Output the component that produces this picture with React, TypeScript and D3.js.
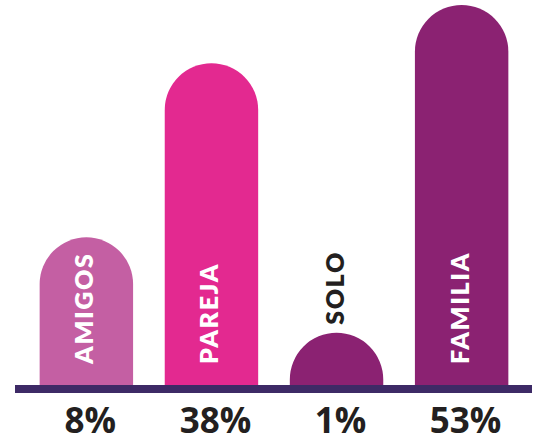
import React, { useRef, useEffect } from 'react';
import * as d3 from 'd3';

// chart data
const categories = ['AMIGOS', 'PAREJA', 'SOLO', 'FAMILIA'];
const values = [8, 38, 1, 53];
const valueLabels = ['8%', '38%', '1%', '53%'];
const barColors = ['#c45fa3', '#e32990', '#8b2272', '#8b2272'];

const width = 541;
const height = 443;
const baseY = 385;

// rounded-top bar; falls back to a circle segment when shorter than the radius
const barPath = (x0: number, w: number, top: number, base: number) => {
  const h = base - top;
  const r = w / 2;
  if (h >= r) {
    return `M${x0},${base}V${top + r}A${r},${r} 0 0 1 ${x0 + w},${top + r}V${base}Z`;
  }
  const R = (h * h + r * r) / (2 * h);
  return `M${x0},${base}A${R},${R} 0 0 1 ${x0 + w},${base}Z`;
};

const App: React.FC = () => {
  const ref = useRef<SVGSVGElement>(null);

  useEffect(() => {
    if (!ref.current) return;
    const svg = d3.select(ref.current);
    svg.selectAll('*').remove();

    const x = d3.scaleBand().domain(categories).range([8, 540]).padding(0.253);
    const y = d3.scaleSqrt().domain([0, 53]).range([baseY, 5]);
    const bw = x.bandwidth();
    // short bars get their label above instead of inside
    const outside = (i: number) => baseY - y(values[i]) < 120;

    svg
      .selectAll('.bar')
      .data(categories)
      .join('path')
      .attr('class', 'bar')
      .attr('d', (d, i) => barPath(x(d)!, bw, y(values[i]), baseY))
      .attr('fill', (d, i) => barColors[i]);

    // baseline
    svg
      .append('rect')
      .attr('x', 15)
      .attr('y', baseY)
      .attr('width', 517)
      .attr('height', 8)
      .attr('fill', '#3d2a66');

    // category labels, rotated
    svg
      .selectAll('.cat')
      .data(categories)
      .join('text')
      .attr('class', 'cat')
      .attr('transform', (d, i) => {
        const cx = x(d)! + bw / 2 + 7;
        const startY = outside(i) ? y(values[i]) - 8 : baseY - 21;
        return `translate(${cx},${startY}) rotate(-90)`;
      })
      .attr('font-family', 'Lato, "Open Sans", sans-serif')
      .attr('font-weight', 800)
      .attr('font-size', 25)
      .attr('letter-spacing', 1.6)
      .attr('fill', (d, i) => (outside(i) ? '#231f20' : '#ffffff'))
      .text((d) => d);

    // value labels
    svg
      .selectAll('.val')
      .data(categories)
      .join('text')
      .attr('class', 'val')
      .attr('x', (d) => x(d)! + bw / 2 + 4)
      .attr('y', 433)
      .attr('text-anchor', 'middle')
      .attr('font-family', '"Open Sans", Lato, sans-serif')
      .attr('font-weight', 700)
      .attr('font-size', 35)
      .attr('fill', '#231f20')
      .text((d, i) => valueLabels[i]);
  }, []);

  return (
    <svg
      ref={ref}
      width={width}
      height={height}
      style={{ position: 'absolute', left: 0, top: 0, background: '#fff' }}
    />
  );
};

export default App;
